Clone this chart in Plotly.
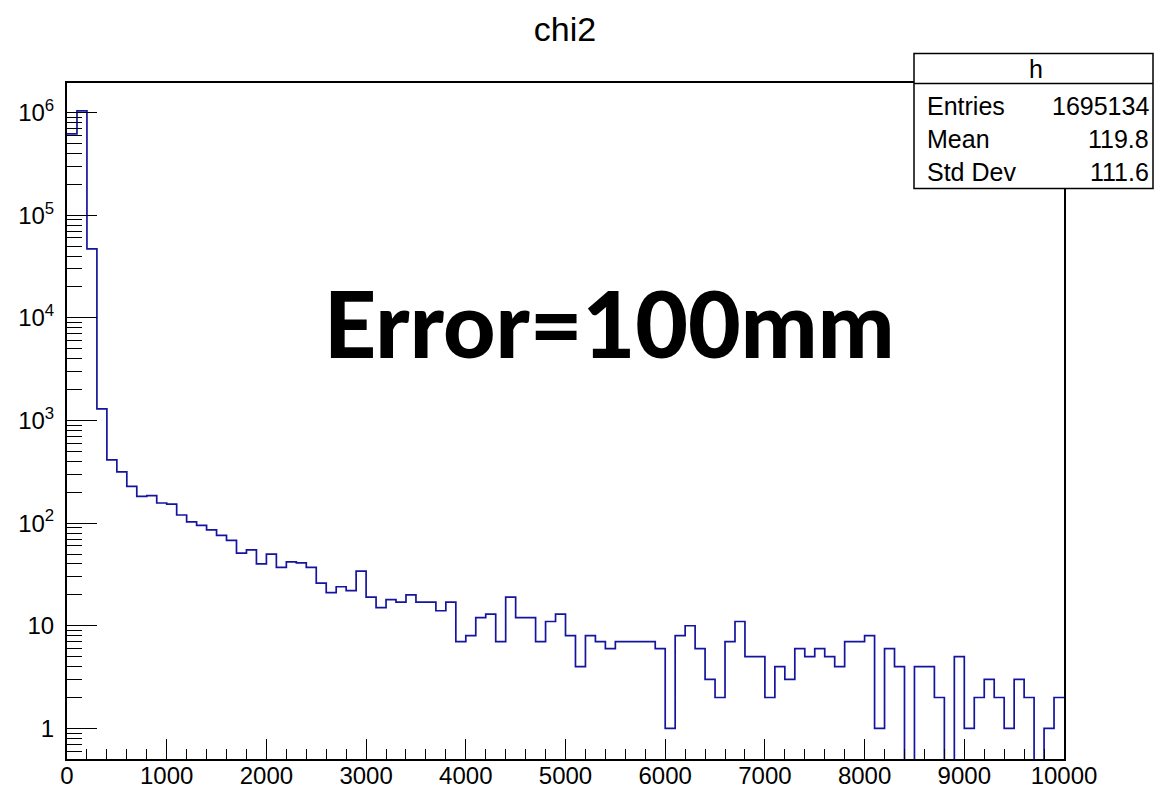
import plotly.graph_objects as go

# ---- data ----
bin_width = 100
x_min, x_max = 0, 10000
counts = [
    620000, 1040000, 47000, 1300, 414, 316, 228, 182, 185, 157,
    153, 120, 103, 95, 86, 76, 68, 51, 55, 40,
    50, 37, 42, 41, 37, 26, 21, 24, 22, 34,
    19, 15, 18, 17, 20, 17, 17, 14, 17, 7,
    8, 12, 13, 7, 19, 12, 12, 7, 11, 13,
    8, 4, 8, 7, 6, 7, 7, 7, 7, 6,
    1, 8, 10, 6, 3, 2, 7, 11, 5, 5,
    2, 4, 3, 6, 5, 6, 5, 4, 7, 7,
    8, 1, 6, 4, 0, 4, 4, 2, 0, 5,
    1, 2, 3, 2, 1, 3, 2, 0, 1, 2,
]
x_tick_vals = list(range(0, 10001, 1000))
x_tick_text = [str(v) for v in x_tick_vals]
y_tick_vals = [1, 10, 100, 1000, 10000, 100000, 1000000]
y_tick_text = ["1", "10", "10<sup>2</sup>", "10<sup>3</sup>", "10<sup>4</sup>",
               "10<sup>5</sup>", "10<sup>6</sup>"]
title_text = "chi2"
hist_name = "h"
stat_labels = ["Entries", "Mean", "Std Dev"]
stat_values = ["1695134", "119.8", "111.6"]
big_label = "Error=100mm"

# ---- layout geometry ----
W, H = 1154, 790
L, R_EDGE, T, B_EDGE = 67, 1064, 83, 759
PW, PH = R_EDGE - L, B_EDGE - T
def px(xp):
    return (xp - L) / PW
def py(yp):
    return (B_EDGE - yp) / PH

y_log_range = [-0.298, 6.288]
FLOOR = 1e-3  # empty bins drawn to below the axis (as ROOT does)

edges = [x_min + i * bin_width for i in range(len(counts) + 1)]
yvals = [c if c > 0 else FLOOR for c in counts]
yvals = yvals + [yvals[-1]]

line_color = "#14149e"

fig = go.Figure()
fig.add_trace(go.Scatter(
    x=edges, y=yvals, mode="lines", line=dict(shape="hv", color=line_color, width=1.7),
    hoverinfo="skip", showlegend=False,
))

minor_x = [v for v in range(200, 10000, 200) if v % 1000 != 0]
minor_y = []
for e in range(-1, 7):
    for k in range(2, 10):
        v = k * 10 ** e
        if 10 ** y_log_range[0] <= v <= 10 ** y_log_range[1]:
            minor_y.append(v)

font_main = "Liberation Sans, Arial, Helvetica, sans-serif"

fig.update_layout(
    width=W, height=H,
    margin=dict(l=L, r=W - R_EDGE, t=T, b=H - B_EDGE, autoexpand=False),
    paper_bgcolor="white", plot_bgcolor="white",
    font=dict(family=font_main, color="black"),
    title=dict(text=title_text, x=565 / W, xanchor="center", y=1 - 29 / H, yanchor="middle",
               font=dict(size=34, family=font_main, color="black")),
    xaxis=dict(
        range=[x_min, x_max], showgrid=False, zeroline=False,
        showline=True, linecolor="black", linewidth=2, mirror=True,
        tickmode="array", tickvals=x_tick_vals, ticktext=x_tick_text,
        ticks="inside", ticklen=20, tickwidth=1.3, tickcolor="black",
        minor=dict(tickmode="array", tickvals=minor_x, ticks="inside", ticklen=10,
                   tickwidth=1.3, tickcolor="black", showgrid=False),
        tickfont=dict(size=24, family=font_main, color="black"),
        ticklabelstandoff=-6,
    ),
    yaxis=dict(
        type="log", range=y_log_range, showgrid=False, zeroline=False,
        showline=True, linecolor="black", linewidth=2, mirror=True,
        tickmode="array", tickvals=y_tick_vals, ticktext=y_tick_text,
        ticks="inside", ticklen=30, tickwidth=1.3, tickcolor="black",
        minor=dict(tickmode="array", tickvals=minor_y, ticks="inside", ticklen=15,
                   tickwidth=1.3, tickcolor="black", showgrid=False),
        tickfont=dict(size=24, family=font_main, color="black"),
        ticklabelstandoff=6,
    ),
)

# ---- statistics box ----
bx0, bx1, by0, by1, bsep = 914, 1153, 53.5, 188.5, 83.5
fig.add_shape(type="rect", xref="paper", yref="paper",
              x0=px(bx0), x1=px(bx1), y0=py(by1), y1=py(by0),
              line=dict(color="black", width=1.5), fillcolor="white", layer="above")
fig.add_shape(type="line", xref="paper", yref="paper",
              x0=px(bx0), x1=px(bx1), y0=py(bsep), y1=py(bsep),
              line=dict(color="black", width=1.5), layer="above")
fig.add_annotation(text=hist_name, xref="paper", yref="paper", x=px(1036), y=py(69),
                   xanchor="center", yanchor="middle", showarrow=False,
                   font=dict(size=25, family=font_main, color="black"))
row_y = [106, 139, 172]
for lab, val, yy in zip(stat_labels, stat_values, row_y):
    fig.add_annotation(text=lab, xref="paper", yref="paper", x=px(925), y=py(yy),
                       xanchor="left", yanchor="middle", showarrow=False,
                       font=dict(size=25, family=font_main, color="black"))
    fig.add_annotation(text=val, xref="paper", yref="paper", x=px(1151), y=py(yy),
                       xanchor="right", yanchor="middle", showarrow=False,
                       font=dict(size=25, family=font_main, color="black"))

# ---- big label ----
fig.add_annotation(text=big_label, xref="paper", yref="paper", x=px(609), y=py(322),
                   xanchor="center", yanchor="middle", showarrow=False,
                   font=dict(size=91, family="Lato, Open Sans, sans-serif", weight=900,
                             color="black"))

fig.write_html("out.html")
